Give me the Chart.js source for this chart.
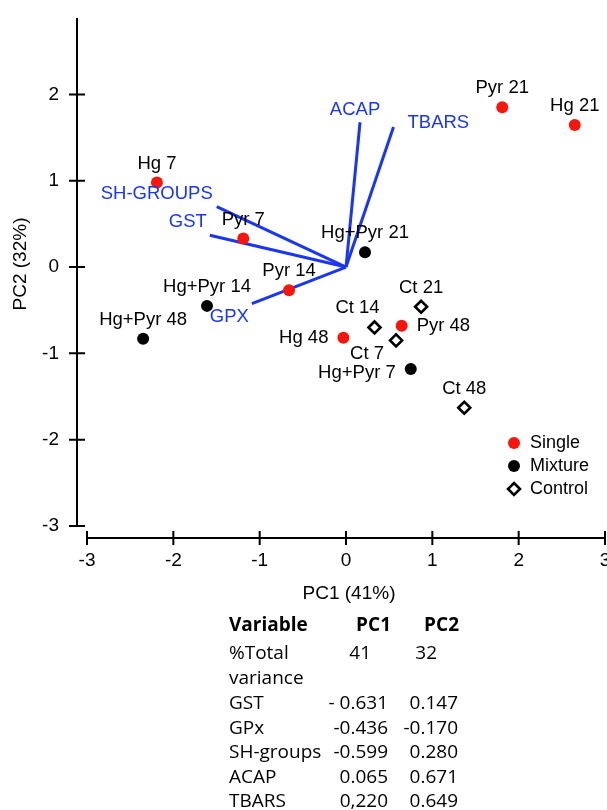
<!DOCTYPE html>
<html>
<head>
<meta charset="utf-8">
<script src="https://cdn.jsdelivr.net/npm/chart.js@4.4.1/dist/chart.umd.min.js"></script>
<style>
  html, body { margin:0; padding:0; background:#fff; overflow:hidden; width:607px; height:810px; }
  #wrap { position:absolute; left:0; top:0; width:620px; height:615px; }
  #tbl { position:absolute; left:0; top:0; width:607px; height:810px; pointer-events:none;
         font-family:"Open Sans","Noto Sans",sans-serif; font-size:19px; color:#000; }
  #tbl div { position:absolute; line-height:25px; white-space:nowrap; }
</style>
</head>
<body>
<div id="wrap"><canvas id="c" width="620" height="615"></canvas></div>
<div id="tbl"></div>
<script>
// ---------- data ----------
const xTicks = [-3, -2, -1, 0, 1, 2, 3];
const yTicks = [-3, -2, -1, 0, 1, 2];

const singleLabels = ['Hg 7', 'Pyr 7', 'Pyr 14', 'Hg 48', 'Pyr 48', 'Pyr 21', 'Hg 21'];
const singlePC1    = [-2.19, -1.19, -0.66, -0.03, 0.645, 1.81, 2.65];
const singlePC2    = [0.98, 0.33, -0.27, -0.82, -0.68, 1.85, 1.645];

const mixtureLabels = ['Hg+Pyr 14', 'Hg+Pyr 48', 'Hg+Pyr 21', 'Hg+Pyr 7'];
const mixturePC1    = [-1.61, -2.35, 0.22, 0.75];
const mixturePC2    = [-0.45, -0.83, 0.17, -1.18];

const controlLabels = ['Ct 21', 'Ct 14', 'Ct 7', 'Ct 48'];
const controlPC1    = [0.87, 0.33, 0.58, 1.37];
const controlPC2    = [-0.46, -0.70, -0.85, -1.63];

const variables   = ['GST', 'GPx', 'SH-groups', 'ACAP', 'TBARS'];
const vectorNames = ['GST', 'GPX', 'SH-GROUPS', 'ACAP', 'TBARS'];
const loadingPC1  = [-0.631, -0.436, -0.599, 0.065, 0.220];
const loadingPC2  = [0.147, -0.170, 0.280, 0.671, 0.649];
const pc1Text     = ['- 0.631', '-0.436', '-0.599', '0.065', '0,220'];
const pc2Text     = ['0.147', '-0.170', '0.280', '0.671', '0.649'];
const varianceLabel = ['%Total', 'variance'];
const varianceValues = ['41', '32'];
const biplotScale = 2.5;

const seriesNames = ['Single', 'Mixture', 'Control'];

// ---------- placement / style (not data) ----------
const singlePlace  = ['above', 'above', 'above', 'left', 'right', 'above', 'above'];
const mixturePlace = ['above', 'above', 'above', 'leftLow'];
const controlPlace = ['above', 'aboveLeft', 'belowLeft', 'above'];
const vecPlace = [ [-3, -13, 'right'], [-3, 13, 'right'], [-4, -13, 'right'], [-5, -12, 'center'], [14, -4, 'left'] ];

const RED = '#f8160c', BLUE = '#1a36f2';
const FONT = '"Liberation Sans", Arial, sans-serif';

function pts(xs, ys) { return xs.map((x, i) => ({ x: x, y: ys[i] })); }

const datasets = [
  { label: seriesNames[0], data: pts(singlePC1, singlePC2), names: singleLabels, place: singlePlace,
    pointStyle: 'circle', pointRadius: 6, backgroundColor: RED, borderColor: RED, borderWidth: 0 },
  { label: seriesNames[1], data: pts(mixturePC1, mixturePC2), names: mixtureLabels, place: mixturePlace,
    pointStyle: 'circle', pointRadius: 6, backgroundColor: '#000', borderColor: '#000', borderWidth: 0 },
  { label: seriesNames[2], data: pts(controlPC1, controlPC2), names: controlLabels, place: controlPlace,
    pointStyle: 'rectRot', pointRadius: 6, backgroundColor: '#fff', borderColor: '#000', borderWidth: 2.6 }
];
vectorNames.forEach((n, i) => {
  datasets.push({
    label: n, isVector: true, vi: i,
    data: [{ x: 0, y: 0 }, { x: loadingPC1[i] * biplotScale, y: loadingPC2[i] * biplotScale }],
    showLine: true, pointRadius: 0, borderColor: BLUE, borderWidth: 3, fill: false
  });
});

const decor = {
  id: 'decor',
  afterDatasetsDraw(chart) {
    const ctx = chart.ctx, xs = chart.scales.x, ys = chart.scales.y, ca = chart.chartArea;
    ctx.save();
    // axes
    ctx.strokeStyle = '#000'; ctx.lineWidth = 2; ctx.lineCap = 'butt';
    const yx = ca.left;
    ctx.beginPath();
    ctx.moveTo(yx, ca.top); ctx.lineTo(yx, ys.getPixelForValue(yTicks[0]));
    yTicks.forEach(v => { const p = ys.getPixelForValue(v); ctx.moveTo(yx - 8, p); ctx.lineTo(yx + 8, p); });
    const xy = ca.bottom;
    ctx.moveTo(xs.getPixelForValue(xTicks[0]), xy); ctx.lineTo(xs.getPixelForValue(xTicks[xTicks.length - 1]), xy);
    xTicks.forEach(v => { const p = xs.getPixelForValue(v); ctx.moveTo(p, xy - 7); ctx.lineTo(p, xy + 7); });
    ctx.stroke();

    // axis titles
    ctx.fillStyle = '#000';
    ctx.font = '19px ' + FONT;
    ctx.textAlign = 'center'; ctx.textBaseline = 'middle';
    ctx.fillText('PC1 (41%)', 349, 594);
    ctx.save(); ctx.translate(21, 264); ctx.rotate(-Math.PI / 2);
    ctx.fillText('PC2 (32%)', 0, 0); ctx.restore();

    // point labels
    ctx.font = '18.5px ' + FONT;
    chart.data.datasets.forEach((ds, di) => {
      const meta = chart.getDatasetMeta(di);
      if (ds.isVector) {
        const end = meta.data[1];
        const pl = vecPlace[ds.vi];
        ctx.fillStyle = BLUE; ctx.textAlign = pl[2]; ctx.textBaseline = 'middle';
        ctx.fillText(ds.label, end.x + pl[0], end.y + pl[1]);
        return;
      }
      ctx.fillStyle = '#000';
      meta.data.forEach((el, i) => {
        const t = ds.names[i], pl = ds.place[i];
        let x = el.x, y = el.y, al = 'center';
        if (pl === 'above') { y -= 19; }
        else if (pl === 'left') { x -= 15; al = 'right'; }
        else if (pl === 'leftLow') { x -= 15; y += 4; al = 'right'; }
        else if (pl === 'right') { x += 15; al = 'left'; }
        else if (pl === 'aboveLeft') { x -= 17; y -= 20; }
        else if (pl === 'belowLeft') { x -= 29; y += 13; }
        ctx.textAlign = al; ctx.textBaseline = 'middle';
        ctx.fillText(t, x, y);
      });
    });

    // legend
    ctx.font = '18px ' + FONT;
    const lx = ca.right - 91, ly = ca.bottom - 95, gap = 23;
    [0, 1, 2].forEach(k => {
      const ds = chart.data.datasets[k];
      const cy = ly + k * gap;
      ctx.beginPath();
      if (ds.pointStyle === 'circle') {
        ctx.fillStyle = ds.backgroundColor;
        ctx.arc(lx, cy, 6, 0, Math.PI * 2); ctx.fill();
      } else {
        ctx.fillStyle = '#fff'; ctx.strokeStyle = '#000'; ctx.lineWidth = 2.6;
        ctx.moveTo(lx, cy - 6); ctx.lineTo(lx + 6, cy); ctx.lineTo(lx, cy + 6); ctx.lineTo(lx - 6, cy); ctx.closePath();
        ctx.fill(); ctx.stroke();
      }
      ctx.fillStyle = '#000'; ctx.textAlign = 'left'; ctx.textBaseline = 'middle';
      ctx.fillText(ds.label, lx + 16, cy);
    });
    ctx.restore();
  }
};

new Chart(document.getElementById('c'), {
  type: 'scatter',
  data: { datasets: datasets },
  options: {
    responsive: false, animation: false, devicePixelRatio: 1,
    layout: { padding: { top: 18, right: 15, left: 0, bottom: 0 } },
    plugins: { legend: { display: false }, tooltip: { enabled: false } },
    elements: { line: { tension: 0 } },
    scales: {
      x: {
        type: 'linear', min: -3.116, max: 3,
        afterBuildTicks: s => { s.ticks = xTicks.map(v => ({ value: v })); },
        afterFit: s => { s.height = 77; s.paddingLeft = 0; s.paddingRight = 0; },
        grid: { display: false, drawTicks: false }, border: { display: false },
        ticks: { color: '#000', font: { size: 19, family: FONT }, padding: 11, maxRotation: 0, autoSkip: false }
      },
      y: {
        type: 'linear', min: -3.139, max: 2.885,
        afterBuildTicks: s => { s.ticks = yTicks.map(v => ({ value: v })); },
        afterFit: s => { s.width = 77; s.paddingTop = 0; s.paddingBottom = 0; },
        grid: { display: false, drawTicks: false }, border: { display: false },
        ticks: { color: '#000', font: { size: 19, family: FONT }, padding: 18, autoSkip: false }
      }
    }
  },
  plugins: [decor]
});

// ---------- table ----------
const tbl = document.getElementById('tbl');
function cell(text, top, left, right, bold) {
  const d = document.createElement('div');
  d.textContent = text;
  d.style.top = top + 'px';
  if (left != null) d.style.left = left + 'px';
  if (right != null) d.style.right = (607 - right) + 'px';
  if (bold) d.style.fontWeight = '700';
  tbl.appendChild(d);
}
cell('Variable', 612, 229, null, true);
cell('PC1', 612, null, 391, true);
cell('PC2', 612, null, 459, true);
cell(varianceLabel[0], 640, 229);
cell(varianceValues[0], 640, null, 371);
cell(varianceValues[1], 640, null, 437);
cell(varianceLabel[1], 665, 229);
const rowTops = [690, 715, 739, 764, 788];
variables.forEach((v, i) => {
  cell(v, rowTops[i], 229);
  cell(pc1Text[i], rowTops[i], null, 388);
  cell(pc2Text[i], rowTops[i], null, 458);
});
</script>
</body>
</html>
